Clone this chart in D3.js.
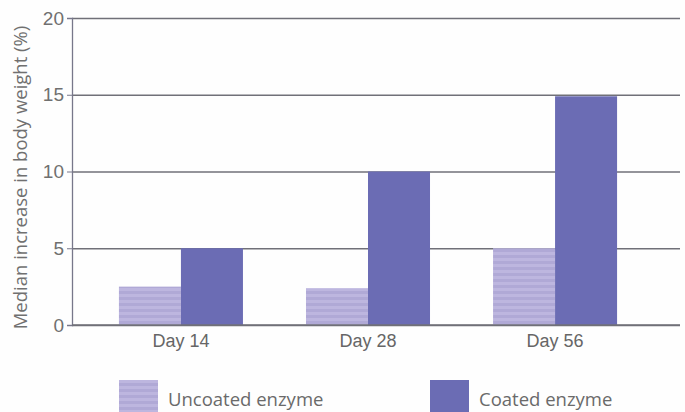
<!DOCTYPE html>
<html>
<head>
<meta charset="utf-8">
<script src="https://cdn.jsdelivr.net/npm/d3@7.9.0/dist/d3.min.js"></script>
<style>
  html, body { margin: 0; padding: 0; background: #fefefe; }
  svg { display: block; font-family: "Open Sans", "Noto Sans", sans-serif; }
</style>
</head>
<body>
<div id="chart"></div>
<script>
// chart data
const days = ['Day 14', 'Day 28', 'Day 56'];
const seriesNames = ['Uncoated enzyme', 'Coated enzyme'];
const uncoated = [2.5, 2.4, 5];
const coated = [5, 10, 14.9];
const yTicks = [0, 5, 10, 15, 20];

const width = 685;
const height = 412;

const rows = days.map((d, i) => ({ day: d, values: [uncoated[i], coated[i]] }));

const svg = d3.select('#chart')
    .append('svg')
    .attr('width', width)
    .attr('height', height);

// striped fill for the light bars
const defs = svg.append('defs');
const pat = defs.append('pattern')
    .attr('id', 'stripes')
    .attr('patternUnits', 'userSpaceOnUse')
    .attr('width', 8)
    .attr('height', 6);
pat.append('rect').attr('width', 8).attr('height', 6).attr('fill', '#bdb6df');
pat.append('rect').attr('y', 3).attr('width', 8).attr('height', 3).attr('fill', '#b0a9d6');

const colors = ['url(#stripes)', '#6b6cb4'];

const plot = { left: 72, right: 680, top: 18, bottom: 325 };

const yScale = d3.scaleLinear()
    .domain([0, 20])
    .range([plot.bottom, plot.top]);

const xScale = d3.scaleBand()
    .domain(days)
    .range([87.5, 648.5])
    .paddingInner(0.337)
    .paddingOuter(0.168);

const xInner = d3.scaleBand()
    .domain([0, 1])
    .range([0, xScale.bandwidth()]);

// gridlines
const grid = svg.append('g')
    .attr('transform', `translate(${plot.left},0)`)
    .call(d3.axisLeft(yScale).tickValues(yTicks).tickSize(-(plot.right - plot.left)).tickFormat(''));
grid.select('.domain').remove();
grid.selectAll('.tick line')
    .attr('stroke', '#707078')
    .attr('stroke-width', 1.3);

// bars
const groups = svg.append('g')
    .selectAll('g')
    .data(rows)
    .join('g')
    .attr('transform', d => `translate(${xScale(d.day)},0)`);

groups.selectAll('rect')
    .data(d => d.values)
    .join('rect')
    .attr('x', (d, i) => xInner(i))
    .attr('width', xInner.bandwidth())
    .attr('y', d => yScale(d))
    .attr('height', d => plot.bottom - yScale(d))
    .attr('fill', (d, i) => colors[i]);

// y axis
const yAxis = svg.append('g')
    .attr('transform', `translate(${plot.left},0)`)
    .call(d3.axisLeft(yScale).tickValues(yTicks).tickSize(5).tickPadding(3));
yAxis.select('.domain').attr('stroke', '#77778a').attr('stroke-width', 1.3);
yAxis.selectAll('.tick line').attr('stroke', '#77778a');
yAxis.selectAll('.tick text')
    .attr('fill', '#707070')
    .attr('font-size', 19);

// baseline
svg.append('line')
    .attr('x1', plot.left)
    .attr('x2', plot.right)
    .attr('y1', yScale(0))
    .attr('y2', yScale(0))
    .attr('stroke', '#707078')
    .attr('stroke-width', 1.5);

// x labels
const xAxis = svg.append('g')
    .attr('transform', `translate(0,${plot.bottom})`)
    .call(d3.axisBottom(xScale).tickSize(0).tickPadding(9));
xAxis.select('.domain').remove();
xAxis.selectAll('.tick text')
    .attr('fill', '#666')
    .attr('font-size', 18);

// y label
svg.append('text')
    .attr('text-anchor', 'middle')
    .attr('transform', `translate(27, ${(plot.top + plot.bottom) / 2 + 6}) rotate(-90)`)
    .attr('fill', '#707070')
    .attr('font-size', 18.5)
    .text('Median increase in body weight (%)');

// legend
const legendX = [119, 430];
const legend = svg.append('g')
    .selectAll('g')
    .data(seriesNames)
    .join('g')
    .attr('transform', (d, i) => `translate(${legendX[i]},380)`);
legend.append('rect')
    .attr('width', 39)
    .attr('height', 34)
    .attr('fill', (d, i) => colors[i]);
legend.append('text')
    .attr('x', 49)
    .attr('y', 26)
    .attr('fill', '#6a6a6a')
    .attr('font-size', 18.5)
    .text(d => d);
</script>
</body>
</html>
